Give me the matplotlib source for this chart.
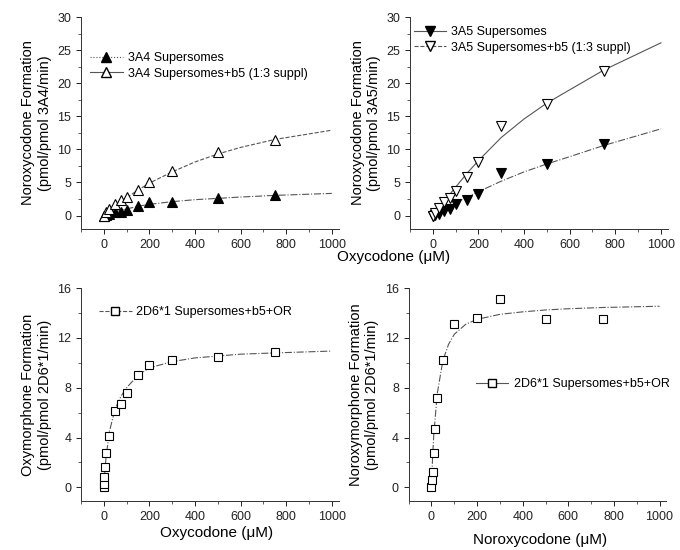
import matplotlib.pyplot as plt
from matplotlib.ticker import MultipleLocator

plt.rcParams['font.family'] = ['Liberation Sans', 'DejaVu Sans']

# --- data ---
conc_3a4 = [0, 10, 25, 50, 75, 100, 150, 200, 300, 500, 750]
a4_plain = [0, 0.1, 0.3, 0.5, 0.6, 0.9, 1.5, 2.0, 2.0, 2.6, 3.1]
a4_b5 = [0, 0.5, 1.0, 1.7, 2.3, 2.8, 3.9, 5.1, 6.8, 9.6, 11.4]

conc_3a5 = [0, 10, 25, 50, 75, 100, 150, 200, 300, 500, 750]
a5_plain = [0, 0.1, 0.3, 0.7, 1.0, 1.8, 2.3, 3.2, 6.5, 7.8, 10.8]
a5_b5 = [0, 0.4, 1.2, 2.1, 2.7, 3.7, 5.9, 8.1, 13.6, 16.8, 21.9]

conc_2d6 = [0, 1, 2.5, 5, 10, 25, 50, 75, 100, 150, 200, 300, 500, 750]
oxymorphone = [0, 0.3, 0.8, 1.6, 2.8, 4.1, 6.1, 6.7, 7.6, 9.0, 9.8, 10.2, 10.45, 10.9]

conc_nor = [0, 2.5, 5, 10, 15, 25, 50, 100, 200, 300, 500, 750]
noroxymorphone = [0, 0.6, 1.2, 2.8, 4.7, 7.2, 10.2, 13.1, 13.6, 15.1, 13.5, 13.5]

# fitted curves
fit_x = [0, 5, 10, 25, 50, 75, 100, 150, 200, 300, 400, 500, 600, 750, 1000]
fit_a4_plain = [0, 0.06, 0.12, 0.3, 0.55, 0.8, 1.0, 1.4, 1.7, 2.1, 2.4, 2.6, 2.8, 3.05, 3.35]
fit_a4_b5 = [0, 0.14, 0.28, 0.7, 1.4, 2.05, 2.7, 3.85, 4.9, 6.6, 8.1, 9.3, 10.3, 11.5, 12.9]
fit_a5_plain = [0, 0.1, 0.2, 0.48, 0.96, 1.43, 1.9, 2.8, 3.6, 5.2, 6.6, 7.8, 8.9, 10.6, 13.1]
fit_a5_b5 = [0, 0.22, 0.44, 1.1, 2.2, 3.25, 4.3, 6.4, 8.3, 11.8, 14.6, 17.0, 19.0, 22.0, 26.1]
fit_oxym = [0, 1.3, 2.4, 4.5, 6.3, 7.3, 8.0, 9.0, 9.6, 10.1, 10.4, 10.55, 10.7, 10.8, 10.95]
fit_noroxym = [0, 2.5, 4.2, 7.5, 10.2, 11.5, 12.3, 13.1, 13.5, 13.9, 14.1, 14.25, 14.35, 14.45, 14.55]

fig = plt.figure(figsize=(6.8, 5.5), dpi=100)
ax1 = fig.add_axes([0.119, 0.584, 0.379, 0.385])
ax2 = fig.add_axes([0.603, 0.584, 0.379, 0.385])
ax3 = fig.add_axes([0.119, 0.089, 0.379, 0.387])
ax4 = fig.add_axes([0.601, 0.089, 0.379, 0.387])

lc = '#555555'
mk = dict(color='black', markersize=6.5, markeredgewidth=0.8, linestyle='none')
leg_kw = dict(frameon=False, fontsize=9, handlelength=2.6, handletextpad=0.4,
              labelspacing=0.3, borderaxespad=0, borderpad=0)

def style(ax, ymin, ymax, major, minor):
    ax.set_xlim(-100, 1030)
    ax.set_ylim(ymin, ymax)
    ax.xaxis.set_major_locator(MultipleLocator(200))
    ax.xaxis.set_minor_locator(MultipleLocator(100))
    ax.yaxis.set_major_locator(MultipleLocator(major))
    ax.yaxis.set_minor_locator(MultipleLocator(minor))
    for s in ['top', 'right']:
        ax.spines[s].set_visible(False)
    for s in ['left', 'bottom']:
        ax.spines[s].set_linewidth(0.7)
        ax.spines[s].set_color('#333333')
    ax.tick_params(which='major', direction='out', length=3.5, width=0.7, labelsize=9, colors='#222222')
    ax.tick_params(which='minor', direction='out', length=2, width=0.6, colors='#444444')

# top left: 3A4
ax1.plot(fit_x, fit_a4_plain, color=lc, lw=0.8, ls='-.')
ax1.plot(fit_x, fit_a4_b5, color=lc, lw=0.8, ls='--')
h1, = ax1.plot([], [], color=lc, lw=0.8, ls=':', marker='^', markerfacecolor='black', markeredgecolor='black', markersize=6.5)
h2, = ax1.plot([], [], color=lc, lw=0.8, ls='-', marker='^', markerfacecolor='white', markeredgecolor='black', markersize=6.5)
ax1.plot(conc_3a4, a4_plain, marker='^', markerfacecolor='black', **mk)
ax1.plot(conc_3a4, a4_b5, marker='^', markerfacecolor='white', **mk)
style(ax1, -2, 30, 5, 2.5)
ax1.set_ylabel('Noroxycodone Formation\n(pmol/pmol 3A4/min)', fontsize=10.5)
ax1.legend([h1, h2], ['3A4 Supersomes', '3A4 Supersomes+b5 (1:3 suppl)'], loc='upper left',
           bbox_to_anchor=(90 / 680, 1 - 52 / 550), bbox_transform=fig.transFigure, **leg_kw)

# top right: 3A5
ax2.plot(fit_x, fit_a5_plain, color=lc, lw=0.8, ls='-.')
ax2.plot(fit_x, fit_a5_b5, color=lc, lw=0.8, ls='-')
h3, = ax2.plot([], [], color=lc, lw=0.8, ls='-', marker='v', markerfacecolor='black', markeredgecolor='black', markersize=6.5)
h4, = ax2.plot([], [], color=lc, lw=0.8, ls='--', marker='v', markerfacecolor='white', markeredgecolor='black', markersize=6.5)
ax2.plot(conc_3a5, a5_plain, marker='v', markerfacecolor='black', **mk)
ax2.plot(conc_3a5, a5_b5, marker='v', markerfacecolor='white', **mk)
style(ax2, -2, 30, 5, 2.5)
ax2.set_ylabel('Noroxycodone Formation\n(pmol/pmol 3A5/min)', fontsize=10.5)
ax2.legend([h3, h4], ['3A5 Supersomes', '3A5 Supersomes+b5 (1:3 suppl)'], loc='upper left',
           bbox_to_anchor=(414 / 680, 1 - 26 / 550), bbox_transform=fig.transFigure, **leg_kw)

fig.text(394 / 680, 1 - 257 / 550, 'Oxycodone (\u03bcM)', ha='center', va='center', fontsize=11)

# bottom left: 2D6 oxymorphone
ax3.plot(fit_x, fit_oxym, color=lc, lw=0.8, ls='-.')
h5, = ax3.plot([], [], color=lc, lw=0.8, ls='--', marker='s', markerfacecolor='white', markeredgecolor='black', markersize=5.5)
ax3.plot(conc_2d6, oxymorphone, marker='s', markerfacecolor='white', **{**mk, 'markersize': 5.5})
style(ax3, -1.1, 16, 4, 2)
ax3.set_ylabel('Oxymorphone Formation\n(pmol/pmol 2D6*1/min)', fontsize=10.5)
ax3.legend([h5], ['2D6*1 Supersomes+b5+OR'], loc='center left',
           bbox_to_anchor=(99 / 680, 1 - 312 / 550), bbox_transform=fig.transFigure, **leg_kw)
fig.text(217 / 680, 1 - 533 / 550, 'Oxycodone (\u03bcM)', ha='center', va='center', fontsize=11)

# bottom right: 2D6 noroxymorphone
ax4.plot(fit_x, fit_noroxym, color=lc, lw=0.8, ls='-.')
h6, = ax4.plot([], [], color=lc, lw=0.8, ls='-', marker='s', markerfacecolor='white', markeredgecolor='black', markersize=5.5)
ax4.plot(conc_nor, noroxymorphone, marker='s', markerfacecolor='white', **{**mk, 'markersize': 5.5})
style(ax4, -1.1, 16, 4, 2)
ax4.set_ylabel('Noroxymorphone Formation\n(pmol/pmol 2D6*1/min)', fontsize=10.5)
ax4.legend([h6], ['2D6*1 Supersomes+b5+OR'], loc='center left',
           bbox_to_anchor=(476 / 680, 1 - 384 / 550), bbox_transform=fig.transFigure, **leg_kw)
fig.text(540 / 680, 1 - 540 / 550, 'Noroxycodone (\u03bcM)', ha='center', va='center', fontsize=11)

fig.savefig('out.png', dpi=100)
